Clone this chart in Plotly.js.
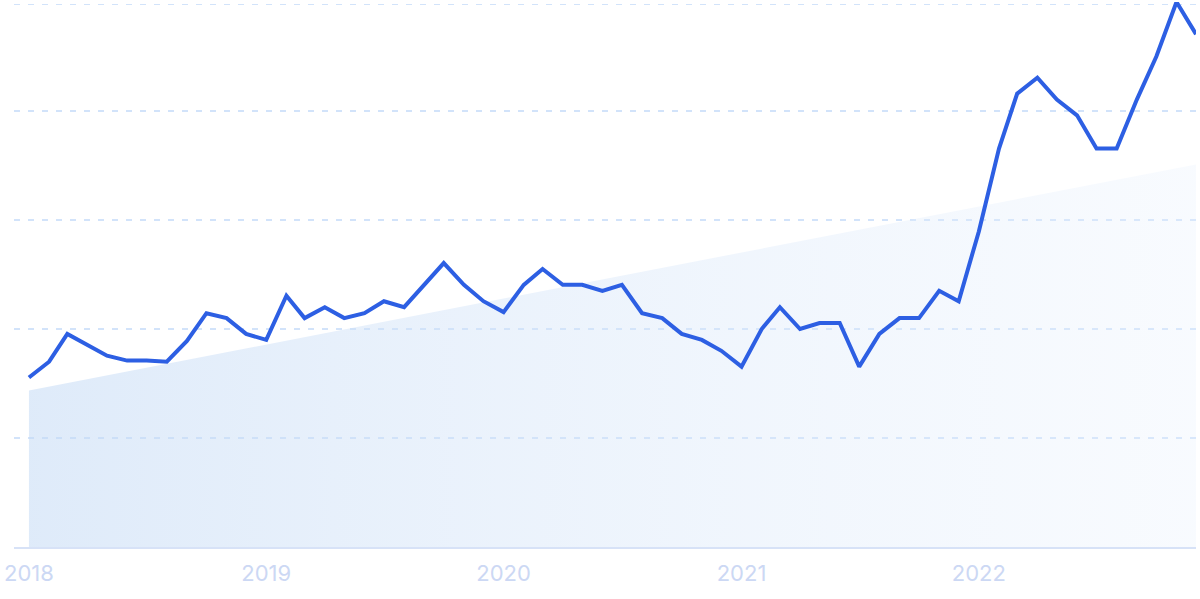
<!DOCTYPE html>
<html>
<head>
<meta charset="utf-8">
<script src="https://cdn.plot.ly/plotly-3.0.1.min.js"></script>
<style>html,body{margin:0;padding:0;background:#fff;}#chart{width:1200px;height:599px;}</style>
</head>
<body>
<div id="chart"></div>
<script>
const months = [
 "2018-01-01","2018-02-01","2018-03-01","2018-04-01","2018-05-01","2018-06-01","2018-07-01","2018-08-01","2018-09-01","2018-10-01","2018-11-01","2018-12-01",
 "2019-01-01","2019-02-01","2019-03-01","2019-04-01","2019-05-01","2019-06-01","2019-07-01","2019-08-01","2019-09-01","2019-10-01","2019-11-01","2019-12-01",
 "2020-01-01","2020-02-01","2020-03-01","2020-04-01","2020-05-01","2020-06-01","2020-07-01","2020-08-01","2020-09-01","2020-10-01","2020-11-01","2020-12-01",
 "2021-01-01","2021-02-01","2021-03-01","2021-04-01","2021-05-01","2021-06-01","2021-07-01","2021-08-01","2021-09-01","2021-10-01","2021-11-01","2021-12-01",
 "2022-01-01","2022-02-01","2022-03-01","2022-04-01","2022-05-01","2022-06-01","2022-07-01","2022-08-01","2022-09-01","2022-10-01","2022-11-01","2022-12-01"
];
const interest = [
 31.1,34.0,39.1,37.1,35.1,34.2,34.2,34.0,37.8,42.9,42.0,39.1,
 38.0,46.1,42.0,44.0,42.0,42.9,45.1,44.0,48.1,52.1,48.1,45.1,
 43.1,48.1,51.0,48.1,48.1,47.0,48.1,42.9,42.0,39.1,38.0,36.0,
 33.1,40.0,44.0,40.0,41.1,41.1,33.1,39.1,42.0,42.0,47.0,45.1,
 57.9,73.1,83.2,86.1,82.1,79.2,73.1,73.1,82.1,90.0,100.0,94.1
];
const trendDates = ["2018-01-01","2022-12-01"];
const trendValues = [28.7, 70.2];
const tickDates = ["2018-01-01","2019-01-01","2020-01-01","2021-01-01","2022-01-01"];
const tickLabels = ["2018","2019","2020","2021","2022"];

const traces = [
 {
  x: trendDates, y: trendValues, type: "scatter", mode: "lines",
  line: {width: 0, color: "rgba(0,0,0,0)"},
  fill: "tozeroy",
  fillcolor: "rgba(200,222,246,0.6)",
  fillgradient: {type: "horizontal", colorscale: [[0, "rgba(196,218,245,0.55)"], [1, "rgba(232,241,253,0.3)"]]},
  hoverinfo: "skip"
 },
 {
  x: months, y: interest, type: "scatter", mode: "lines",
  line: {color: "#2d5fe3", width: 4, shape: "linear"},
  cliponaxis: false
 }
];

const layout = {
 width: 1200, height: 599,
 margin: {l: 14, r: 4, t: 2, b: 52},
 paper_bgcolor: "#ffffff", plot_bgcolor: "rgba(0,0,0,0)",
 showlegend: false,
 xaxis: {
  type: "date",
  range: ["2017-12-09", "2022-12-01"],
  tickvals: tickDates, ticktext: tickLabels,
  showgrid: false, zeroline: false,
  showline: true, linecolor: "#d7e2f7", linewidth: 1.5,
  ticks: "", ticklen: 0, ticklabelstandoff: 6,
  tickfont: {family: "Inter, 'Open Sans', sans-serif", size: 22, color: "#ccd8f4"}
 },
 yaxis: {
  range: [0, 100],
  tickvals: [20, 40, 60, 80, 99.6],
  showticklabels: false,
  showgrid: true, gridcolor: "#d2e3fa", gridwidth: 1.2, griddash: "6px,8px",
  zeroline: false, showline: false, fixedrange: true
 }
};

Plotly.newPlot("chart", traces, layout, {displayModeBar: false, staticPlot: true});
</script>
</body>
</html>
